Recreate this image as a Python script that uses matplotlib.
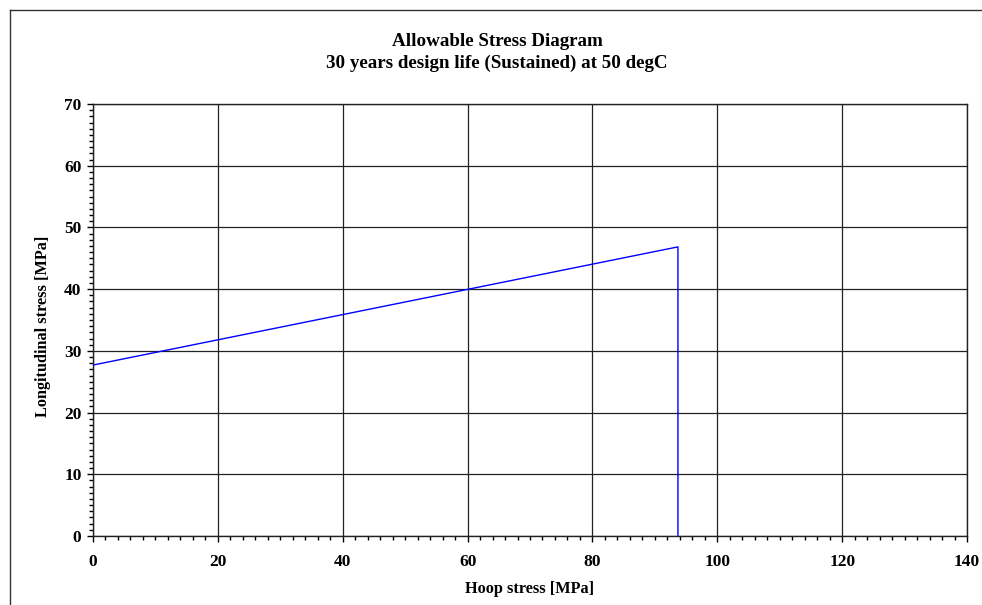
import matplotlib.pyplot as plt
from matplotlib.lines import Line2D
from matplotlib.ticker import MultipleLocator

plt.rcParams['font.family'] = ['Liberation Serif', 'DejaVu Serif']
plt.rcParams['font.weight'] = 'bold'

# allowable stress envelope: hoop vs longitudinal
hoop = [0, 93.7, 93.7]
longitudinal = [27.7, 46.85, 0]

fig = plt.figure(figsize=(9.82, 6.05), dpi=100)
ax = fig.add_axes([93 / 982, 1 - 536 / 605, 874 / 982, 432 / 605])

ax.plot(hoop, longitudinal, color='#0000ff', lw=1.0, zorder=3)

ax.set_xlim(0, 140)
ax.set_ylim(0, 70)
ax.xaxis.set_major_locator(MultipleLocator(20))
ax.xaxis.set_minor_locator(MultipleLocator(2))
ax.yaxis.set_major_locator(MultipleLocator(10))
ax.yaxis.set_minor_locator(MultipleLocator(1))
ax.grid(True, which='major', color='#222222', lw=0.9)
ax.set_axisbelow(True)

ax.tick_params(which='major', length=4.3, width=1, direction='out', labelsize=12.5)
ax.tick_params(which='minor', length=2.9, width=1, direction='out')
ax.tick_params(axis='x', which='major', pad=8.5)
ax.tick_params(axis='y', which='major', pad=4)
for lab in ax.get_xticklabels() + ax.get_yticklabels():
    lab.set_fontweight('bold')
for s in ax.spines.values():
    s.set_color('#222222')
    s.set_linewidth(1.0)

fig.text(530 / 982, 1 - 589 / 605, 'Hoop stress [MPa]', fontsize=11.7,
         fontweight='bold', ha='center', va='center')
fig.text(43 / 982, 1 - 326 / 605, 'Longitudinal stress [MPa]', fontsize=11.7,
         fontweight='bold', ha='center', va='center', rotation=90)
fig.text(497 / 982, 1 - 52.5 / 605,
         'Allowable Stress Diagram\n30 years design life (Sustained) at 50 degC',
         fontsize=13.7, fontweight='bold', ha='center', va='center', linespacing=1.35)

# outer frame (top and left edge)
fig.add_artist(Line2D([9.5 / 982, 1], [1 - 10 / 605, 1 - 10 / 605], color='#333333', lw=1))
fig.add_artist(Line2D([9.5 / 982, 9.5 / 982], [0, 1 - 10 / 605], color='#333333', lw=1))

fig.savefig('out.png', dpi=100)
